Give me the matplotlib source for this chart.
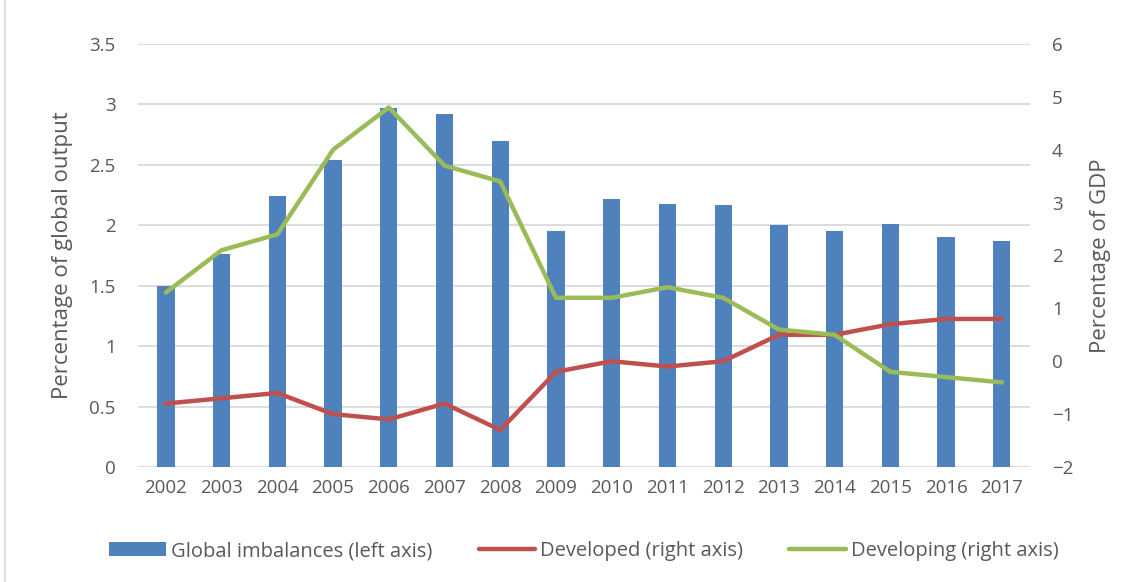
import matplotlib.pyplot as plt
import numpy as np

plt.rcParams['font.family'] = ['Open Sans', 'DejaVu Sans']

# Data
years = ['2002', '2003', '2004', '2005', '2006', '2007', '2008', '2009',
         '2010', '2011', '2012', '2013', '2014', '2015', '2016', '2017']
imbalances = [1.50, 1.76, 2.24, 2.54, 2.97, 2.92, 2.70, 1.95,
              2.22, 2.18, 2.17, 2.00, 1.95, 2.01, 1.90, 1.87]
developed = [-0.8, -0.7, -0.6, -1.0, -1.1, -0.8, -1.3, -0.2,
             0.0, -0.1, 0.0, 0.5, 0.5, 0.7, 0.8, 0.8]
developing = [1.3, 2.1, 2.4, 4.0, 4.8, 3.7, 3.4, 1.2,
              1.2, 1.4, 1.2, 0.6, 0.5, -0.2, -0.3, -0.4]

txt = "#595959"
fig = plt.figure(figsize=(11.34, 5.82), dpi=100)
ax1 = fig.add_axes([0.1217, 0.1976, 0.7863, 0.7268])
x = np.arange(len(years))

ax1.bar(x, imbalances, width=0.31, color="#4F81BD", label="Global imbalances (left axis)", zorder=2)
ax1.set_ylim(0, 3.5)
ax1.set_yticks(np.arange(0, 3.51, 0.5))
ax1.set_yticklabels(["0", "0.5", "1", "1.5", "2", "2.5", "3", "3.5"])
ax1.set_xlim(-0.5, len(years) - 0.5)
ax1.set_xticks(x)
ax1.set_xticklabels(years)
ax1.grid(axis="y", color="#D9D9D9", linewidth=1.3, zorder=0)
ax1.set_axisbelow(True)
ax1.set_ylabel("Percentage of global output", fontsize=16, color=txt, labelpad=12)
ax1.tick_params(axis="y", length=0, labelsize=13.5, colors=txt, pad=16)
ax1.tick_params(axis="x", length=0, labelsize=13.5, colors=txt, pad=9)
for s in ax1.spines.values():
    s.set_visible(False)

ax2 = ax1.twinx()
ax2.plot(x, developed, color="#C0504D", linewidth=3.2, label="Developed (right axis)",
         solid_capstyle="round", zorder=3)
ax2.plot(x, developing, color="#9BBB59", linewidth=3.2, label="Developing (right axis)",
         solid_capstyle="round", zorder=3)
ax2.set_ylim(-2, 6)
ax2.set_yticks(np.arange(-2, 7, 1))
ax2.set_ylabel("Percentage of GDP", fontsize=16, color=txt, labelpad=12)
ax2.tick_params(length=0, labelsize=13.5, colors=txt, pad=16)
for s in ax2.spines.values():
    s.set_visible(False)

h1, l1 = ax1.get_legend_handles_labels()
h2, l2 = ax2.get_legend_handles_labels()
fig.legend(h1 + h2, l1 + l2, loc="center", bbox_to_anchor=(0.515, 0.053), ncol=3,
           frameon=False, fontsize=14.5, labelcolor=txt, handlelength=2.8,
           handletextpad=0.25, columnspacing=2.3)

fig.patches.append(plt.Rectangle((0.004, -0.01), 1.0, 1.02, transform=fig.transFigure,
                                 fill=False, edgecolor="#D9D9D9", linewidth=1.2))

plt.savefig("out.png", dpi=100)
